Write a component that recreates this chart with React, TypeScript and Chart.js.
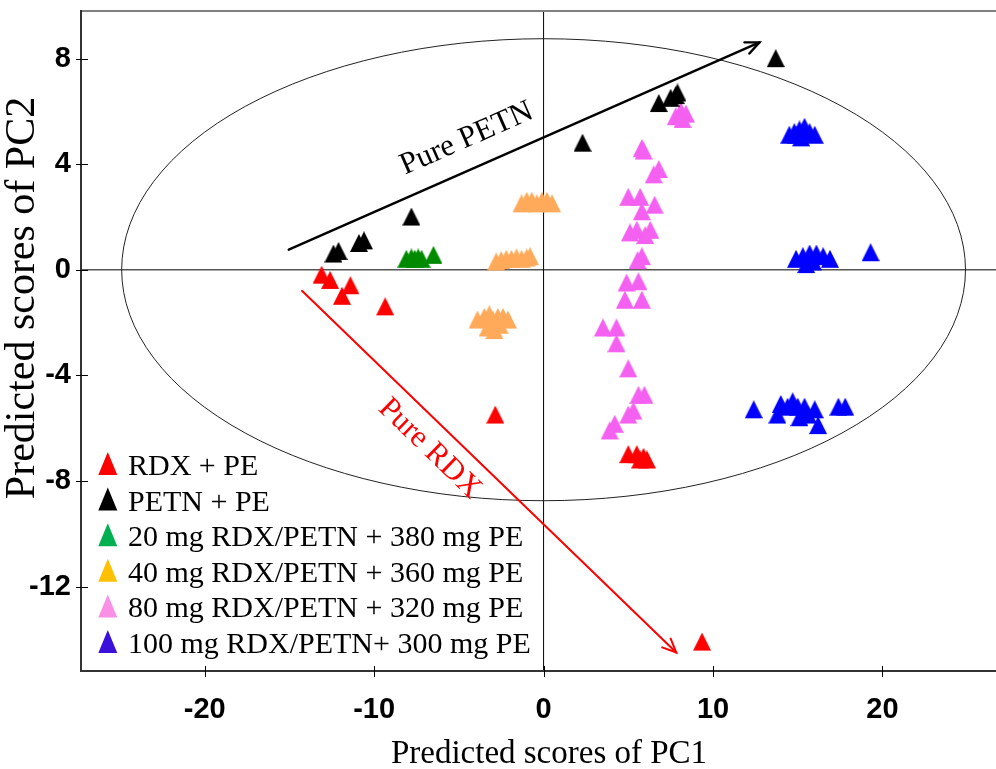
import React, { useEffect, useRef } from "react";
import { Chart, registerables } from "chart.js";

Chart.register(...registerables);

// ---------- data ----------
const seriesNames = [
  "RDX + PE",
  "PETN + PE",
  "20 mg RDX/PETN + 380 mg PE",
  "40 mg RDX/PETN + 360 mg PE",
  "80 mg RDX/PETN + 320 mg PE",
  "100 mg RDX/PETN+ 300 mg PE",
];

const rdxPE: [number, number][] = [
  [-13.1, -0.3], [-12.6, -0.5], [-11.4, -0.7], [-11.9, -1.1], [-9.35, -1.5],
  [-2.85, -5.6], [5.0, -7.1], [5.5, -7.1], [5.7, -7.3], [6.1, -7.3], [5.9, -7.2],
  [9.35, -14.2],
];

const petnPE: [number, number][] = [
  [-12.4, 0.5], [-12.1, 0.6], [-10.9, 0.9], [-10.6, 1.0], [-7.8, 1.9],
  [2.3, 4.7], [6.8, 6.2], [7.5, 6.4], [7.8, 6.5], [7.9, 6.6], [13.7, 7.9],
];

const mix20: [number, number][] = [
  [-8.1, 0.3], [-7.8, 0.35], [-7.6, 0.3], [-7.4, 0.35], [-7.2, 0.3], [-6.5, 0.45],
];

const mix40: [number, number][] = [
  [-1.3, 2.4], [-1.0, 2.5], [-0.7, 2.5], [-0.4, 2.4], [-0.1, 2.5], [0.2, 2.5], [0.5, 2.4],
  [-2.8, 0.2], [-2.5, 0.25], [-2.2, 0.3], [-1.9, 0.3], [-1.6, 0.35], [-1.3, 0.3], [-1.0, 0.35], [-0.8, 0.4],
  [-3.9, -2.0], [-3.5, -1.9], [-3.2, -1.8], [-3.0, -2.0], [-2.7, -1.9], [-2.4, -1.9], [-2.1, -2.0],
  [-3.3, -2.3], [-2.9, -2.4], [-2.6, -2.2],
];

const mix80: [number, number][] = [
  [7.8, 5.7], [8.1, 5.9], [8.4, 5.8], [8.2, 5.6],
  [5.8, 4.5], [5.9, 4.4],
  [6.5, 3.5], [6.8, 3.7],
  [5.0, 2.65], [5.7, 2.65], [6.55, 2.35], [5.8, 2.1],
  [5.1, 1.3], [5.5, 1.4], [6.0, 1.2], [6.3, 1.4],
  [5.55, 0.25], [5.8, 0.4],
  [4.9, -0.6], [5.6, -0.55],
  [4.8, -1.25], [5.8, -1.25],
  [3.5, -2.3], [4.3, -2.3],
  [4.3, -2.9],
  [5.0, -3.85],
  [5.6, -4.85], [5.95, -4.85],
  [5.0, -5.6], [5.3, -5.45],
  [3.9, -6.2], [4.2, -5.95],
];

const mix100: [number, number][] = [
  [14.5, 5.0], [14.8, 5.1], [15.1, 5.2], [15.4, 5.3], [15.7, 5.1], [16.0, 5.0], [15.2, 4.9], [14.9, 5.0],
  [14.9, 0.3], [15.3, 0.4], [15.7, 0.5], [16.1, 0.5], [16.5, 0.4], [16.9, 0.3], [15.5, 0.1], [15.9, 0.2],
  [19.3, 0.55],
  [12.4, -5.4], [13.8, -5.6], [14.0, -5.2], [14.4, -5.3], [14.7, -5.1], [15.0, -5.3], [15.1, -5.7],
  [15.4, -5.3], [15.6, -5.6], [16.0, -5.4], [16.2, -6.0], [17.4, -5.3], [17.8, -5.3],
];

const seriesData = [rdxPE, petnPE, mix20, mix40, mix80, mix100];
const pointColors = ["#FF0000", "#000000", "#008A00", "#FFAA5A", "#F460F0", "#0000FF"];
const legendColors = ["#FF0000", "#000000", "#00B050", "#FFC000", "#F990E6", "#3A10DA"];

const xTicks = [-20, -10, 0, 10, 20];
const yTicks = [-12, -8, -4, 0, 4, 8];
const xRange = [-27.3, 26.7];
const yRange = [-15.2, 9.8];

// confidence ellipse radii (PC1, PC2)
const ellipseRadii = [24.9, 8.75];

// arrows: [x1, y1, x2, y2]
const petnArrow = [-15.04, 0.76, 12.74, 8.61];
const rdxArrow = [-14.26, -0.8, 7.83, -14.5];
const petnLabel = { text: "Pure PETN", x: -4.54, y: 4.96 };
const rdxLabel = { text: "Pure RDX", x: -6.73, y: -6.78 };

const xTitle = "Predicted scores of PC1";
const yTitle = "Predicted scores of PC2";

const SERIF = '"Liberation Serif", "Times New Roman", Times, serif';
const SANS = '"Liberation Sans", Arial, Helvetica, sans-serif';

function makeTriangle(color: string, w: number, h: number) {
  const c = document.createElement("canvas");
  const cy = (2 / 3) * h;
  c.width = w;
  c.height = Math.round(2 * cy);
  const ctx = c.getContext("2d")!;
  ctx.fillStyle = color;
  ctx.beginPath();
  ctx.moveTo(w / 2, 0);
  ctx.lineTo(w, h);
  ctx.lineTo(0, h);
  ctx.closePath();
  ctx.fill();
  return c;
}

function drawArrow(ctx: CanvasRenderingContext2D, x1: number, y1: number, x2: number, y2: number, color: string, lw: number, head: number) {
  ctx.strokeStyle = color;
  ctx.lineWidth = lw;
  ctx.lineCap = "round";
  ctx.beginPath();
  ctx.moveTo(x1, y1);
  ctx.lineTo(x2, y2);
  ctx.stroke();
  const ang = Math.atan2(y2 - y1, x2 - x1);
  const a1 = ang + Math.PI - 0.42;
  const a2 = ang + Math.PI + 0.42;
  ctx.beginPath();
  ctx.moveTo(x2 + head * Math.cos(a1), y2 + head * Math.sin(a1));
  ctx.lineTo(x2, y2);
  ctx.lineTo(x2 + head * Math.cos(a2), y2 + head * Math.sin(a2));
  ctx.stroke();
}

const annotPlugin = {
  id: "annot",
  beforeDatasetsDraw(chart: any) {
    const { ctx, chartArea: a } = chart;
    const xs = chart.scales.x;
    const ys = chart.scales.y;
    const px = (v: number) => xs.getPixelForValue(v);
    const py = (v: number) => ys.getPixelForValue(v);
    ctx.save();
    // zero lines
    ctx.strokeStyle = "#555555";
    ctx.lineWidth = 1.5;
    ctx.beginPath();
    ctx.moveTo(a.left, py(0));
    ctx.lineTo(a.right, py(0));
    ctx.stroke();
    ctx.strokeStyle = "#000000";
    ctx.lineWidth = 1;
    ctx.beginPath();
    ctx.moveTo(px(0), a.top);
    ctx.lineTo(px(0), a.bottom);
    ctx.stroke();
    // ellipse
    const rx = Math.abs(px(ellipseRadii[0]) - px(0));
    const ry = Math.abs(py(ellipseRadii[1]) - py(0));
    ctx.strokeStyle = "#222222";
    ctx.lineWidth = 1;
    ctx.beginPath();
    ctx.ellipse(px(0), py(0), rx, ry, 0, 0, Math.PI * 2);
    ctx.stroke();
    // arrows
    const pa = [px(petnArrow[0]), py(petnArrow[1]), px(petnArrow[2]), py(petnArrow[3])];
    const ra = [px(rdxArrow[0]), py(rdxArrow[1]), px(rdxArrow[2]), py(rdxArrow[3])];
    drawArrow(ctx, pa[0], pa[1], pa[2], pa[3], "#000000", 2.4, 15);
    drawArrow(ctx, ra[0], ra[1], ra[2], ra[3], "#FF0000", 2, 15);
    // labels
    ctx.font = `31px ${SERIF}`;
    ctx.textAlign = "center";
    ctx.textBaseline = "middle";
    ctx.save();
    ctx.translate(px(petnLabel.x), py(petnLabel.y));
    ctx.rotate(Math.atan2(pa[3] - pa[1], pa[2] - pa[0]));
    ctx.fillStyle = "#000000";
    ctx.fillText(petnLabel.text, 0, 0);
    ctx.restore();
    ctx.save();
    ctx.translate(px(rdxLabel.x), py(rdxLabel.y));
    ctx.rotate(Math.atan2(ra[3] - ra[1], ra[2] - ra[0]));
    ctx.fillStyle = "#FF0000";
    ctx.fillText(rdxLabel.text, 0, 0);
    ctx.restore();
    ctx.restore();
  },
  afterDraw(chart: any) {
    const { ctx, chartArea: a } = chart;
    const xs = chart.scales.x;
    const ys = chart.scales.y;
    ctx.save();
    // frame
    ctx.lineCap = "butt";
    ctx.strokeStyle = "#808080";
    ctx.lineWidth = 2;
    ctx.beginPath();
    ctx.moveTo(a.left, a.top);
    ctx.lineTo(a.right, a.top);
    ctx.stroke();
    ctx.strokeStyle = "#333333";
    ctx.beginPath();
    ctx.moveTo(a.left, a.top - 1);
    ctx.lineTo(a.left, a.bottom);
    ctx.lineTo(a.right, a.bottom);
    ctx.stroke();
    // tick marks (crossing the axes)
    ctx.strokeStyle = "#000000";
    ctx.lineWidth = 1;
    for (const v of xTicks) {
      const x = Math.round(xs.getPixelForValue(v)) + 0.5;
      ctx.beginPath();
      ctx.moveTo(x, a.bottom - 5);
      ctx.lineTo(x, a.bottom + 6);
      ctx.stroke();
    }
    for (const v of yTicks) {
      const y = Math.round(ys.getPixelForValue(v)) + 0.5;
      ctx.beginPath();
      ctx.moveTo(a.left - 5, y);
      ctx.lineTo(a.left + 7, y);
      ctx.stroke();
    }
    // axis titles
    ctx.fillStyle = "#000000";
    ctx.font = `33px ${SERIF}`;
    ctx.textAlign = "center";
    ctx.textBaseline = "alphabetic";
    ctx.fillText(xTitle, 549, 763);
    ctx.save();
    ctx.font = `42px ${SERIF}`;
    ctx.translate(34, 298);
    ctx.rotate(-Math.PI / 2);
    ctx.fillText(yTitle, 0, 0);
    ctx.restore();
    // legend
    ctx.font = `30px ${SERIF}`;
    ctx.textAlign = "left";
    for (let i = 0; i < seriesNames.length; i++) {
      const base = 475 + i * 35.6;
      ctx.fillStyle = legendColors[i];
      ctx.beginPath();
      ctx.moveTo(107.8, base - 23);
      ctx.lineTo(117.3, base);
      ctx.lineTo(98.3, base);
      ctx.closePath();
      ctx.fill();
      ctx.fillStyle = "#000000";
      ctx.fillText(seriesNames[i], 128, base);
    }
    ctx.restore();
  },
};

export default function App() {
  const ref = useRef<HTMLCanvasElement | null>(null);
  useEffect(() => {
    if (!ref.current) return;
    const tris = pointColors.map((c) => makeTriangle(c, 18, 18));
    const chart = new Chart(ref.current, {
      type: "scatter",
      data: {
        datasets: seriesData.map((s, i) => ({
          label: seriesNames[i],
          data: s.map(([x, y]) => ({ x, y })),
          pointStyle: tris[i] as any,
          pointRadius: 9,
          backgroundColor: pointColors[i],
          borderColor: pointColors[i],
          showLine: false,
        })),
      },
      options: {
        animation: false,
        responsive: true,
        maintainAspectRatio: false,
        devicePixelRatio: 1,
        events: [],
        layout: { autoPadding: false, padding: { top: 11, left: 0, right: 0, bottom: 0 } },
        plugins: { legend: { display: false }, tooltip: { enabled: false } },
        scales: {
          x: {
            type: "linear",
            min: xRange[0],
            max: xRange[1],
            afterBuildTicks: (s: any) => {
              s.ticks = xTicks.map((v) => ({ value: v }));
            },
            afterFit: (s: any) => {
              s.height = 98;
              s.paddingLeft = 0;
              s.paddingRight = 0;
            },
            grid: { display: false, drawTicks: false },
            border: { display: false },
            ticks: {
              color: "#000000",
              font: { family: SANS, size: 29, weight: "bold" },
              padding: 22,
              maxRotation: 0,
              autoSkip: false,
              callback: (v: any) => String(v),
            },
          },
          y: {
            type: "linear",
            min: yRange[0],
            max: yRange[1],
            afterBuildTicks: (s: any) => {
              s.ticks = yTicks.map((v) => ({ value: v }));
            },
            afterFit: (s: any) => {
              s.width = 81;
              s.paddingTop = 0;
              s.paddingBottom = 0;
            },
            grid: { display: false, drawTicks: false },
            border: { display: false },
            ticks: {
              color: "#000000",
              font: { family: SANS, size: 29, weight: "bold" },
              padding: 10,
              autoSkip: false,
              callback: (v: any) => String(v),
            },
          },
        },
      },
      plugins: [annotPlugin],
    });
    return () => chart.destroy();
  }, []);
  return (
    <div style={{ position: "fixed", left: 0, top: 0, width: 996, height: 769, background: "#ffffff" }}>
      <canvas ref={ref} />
    </div>
  );
}
